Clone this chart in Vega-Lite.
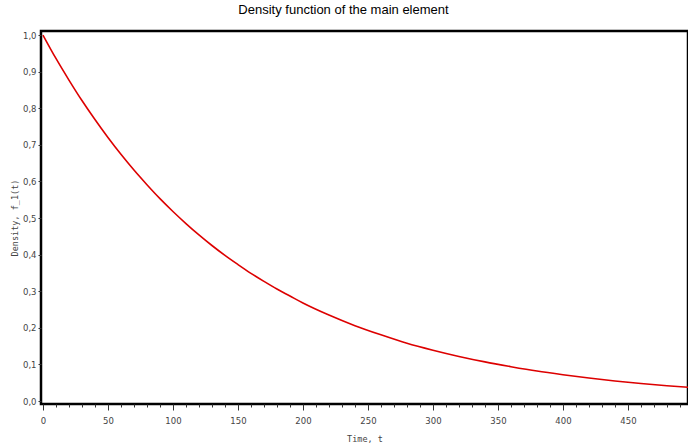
{
  "$schema": "https://vega.github.io/schema/vega-lite/v6.json",
  "autosize": {"type": "none"},
  "padding": {"left": 41, "top": 31, "right": 0, "bottom": 41},
  "width": 647,
  "height": 373,
  "background": "white",
  "title": {
    "text": "Density function of the main element",
    "font": "Liberation Sans",
    "fontSize": 13,
    "fontWeight": "normal",
    "color": "#000000",
    "anchor": "middle",
    "dx": -21,
    "offset": 14
  },
  "config": {
    "view": {"stroke": "#000000", "strokeWidth": 2.5}
  },
  "data": {
    "values": [
      {"t": 0, "f": 1.0},
      {"t": 10, "f": 0.936},
      {"t": 20, "f": 0.877},
      {"t": 30, "f": 0.821},
      {"t": 40, "f": 0.769},
      {"t": 50, "f": 0.72},
      {"t": 60, "f": 0.674},
      {"t": 70, "f": 0.631},
      {"t": 80, "f": 0.591},
      {"t": 90, "f": 0.553},
      {"t": 100, "f": 0.518},
      {"t": 110, "f": 0.485},
      {"t": 120, "f": 0.454},
      {"t": 130, "f": 0.425},
      {"t": 140, "f": 0.398},
      {"t": 150, "f": 0.373},
      {"t": 160, "f": 0.349},
      {"t": 170, "f": 0.327},
      {"t": 180, "f": 0.306},
      {"t": 190, "f": 0.287},
      {"t": 200, "f": 0.268},
      {"t": 220, "f": 0.235},
      {"t": 240, "f": 0.206},
      {"t": 260, "f": 0.181},
      {"t": 280, "f": 0.158},
      {"t": 300, "f": 0.139},
      {"t": 320, "f": 0.122},
      {"t": 340, "f": 0.107},
      {"t": 360, "f": 0.094},
      {"t": 380, "f": 0.082},
      {"t": 400, "f": 0.072},
      {"t": 420, "f": 0.063},
      {"t": 440, "f": 0.055},
      {"t": 460, "f": 0.048},
      {"t": 480, "f": 0.042},
      {"t": 500, "f": 0.037}
    ]
  },
  "mark": {"type": "line", "color": "#dd0000", "strokeWidth": 1.6, "clip": true, "interpolate": "monotone"},
  "encoding": {
    "x": {
      "field": "t",
      "type": "quantitative",
      "scale": {"domain": [-1.5, 496.2], "nice": false, "zero": false},
      "axis": {
        "title": "Time, t",
        "titleFont": "DejaVu Sans Mono",
        "titleFontSize": 8.5,
        "titleFontWeight": "normal",
        "titleColor": "#444444",
        "titlePadding": 10,
        "values": [0,10,20,30,40,50,60,70,80,90,100,110,120,130,140,150,160,170,180,190,200,210,220,230,240,250,260,270,280,290,300,310,320,330,340,350,360,370,380,390,400,410,420,430,440,450,460,470,480,490],
        "labelExpr": "datum.value % 50 === 0 ? datum.label : ''",
        "format": "d",
        "labelFont": "DejaVu Sans",
        "labelFontSize": 8.5,
        "labelColor": "#444444",
        "labelPadding": 6,
        "labelFlush": false,
        "labelOverlap": false,
        "domain": false,
        "grid": false,
        "ticks": true,
        "tickColor": "#333333",
        "tickWidth": 1,
        "tickSize": {"condition": {"test": "datum.value % 50 === 0", "value": 6}, "value": 3}
      }
    },
    "y": {
      "field": "f",
      "type": "quantitative",
      "scale": {"domain": [-0.008, 1.011], "nice": false, "zero": false},
      "axis": {
        "title": "Density, f_1(t)",
        "titleFont": "DejaVu Sans Mono",
        "titleFontSize": 8.5,
        "titleFontWeight": "normal",
        "titleColor": "#444444",
        "titlePadding": 3,
        "values": [0, 0.1, 0.2, 0.3, 0.4, 0.5, 0.6, 0.7, 0.8, 0.9, 1.0],
        "format": ".1f",
        "labelExpr": "replace(datum.label, '.', ',')",
        "labelFont": "DejaVu Sans",
        "labelFontSize": 8.5,
        "labelColor": "#444444",
        "labelPadding": 2,
        "labelFlush": false,
        "labelOverlap": false,
        "domain": false,
        "grid": false,
        "tickColor": "#333333",
        "tickSize": 3
      }
    }
  }
}
